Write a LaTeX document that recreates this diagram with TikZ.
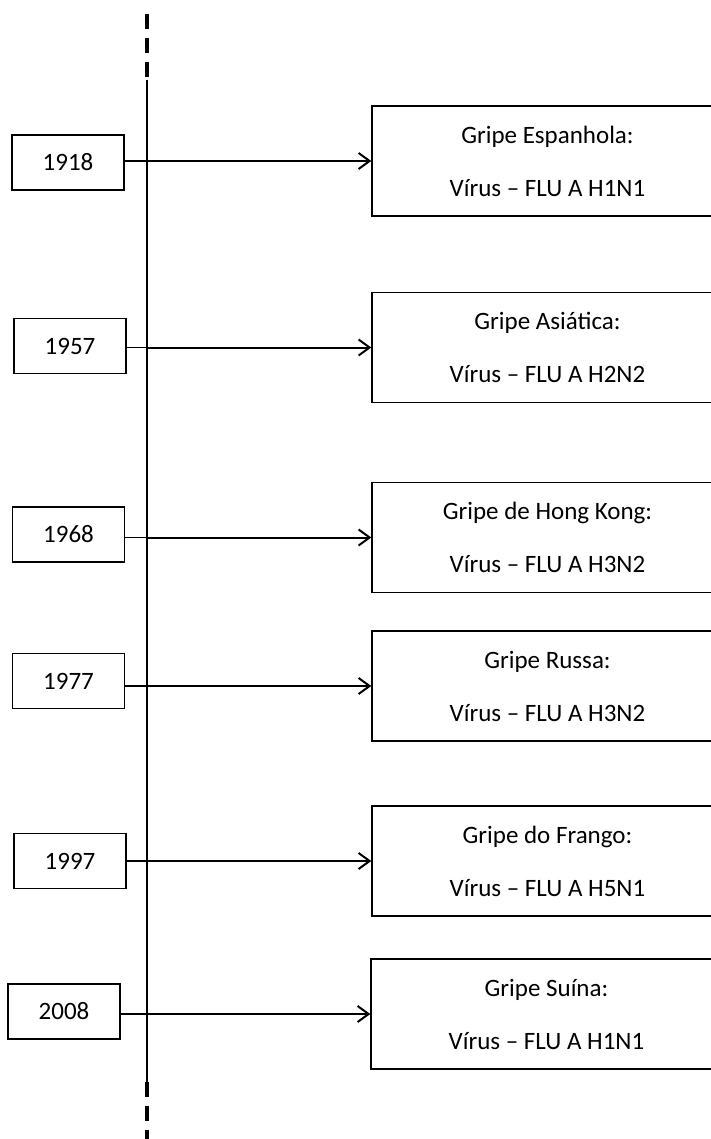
\documentclass[tikz,border=0pt]{standalone}
\usepackage{fontspec}
\setmainfont{Carlito}
\usetikzlibrary{arrows.meta}
\tikzset{
  axis line/.style={line width=0.8pt},
  axis dash/.style={line width=2pt, dash pattern=on 7.5pt off 4.5pt},
  year box/.style={draw, line width=0.7pt, minimum width=56pt, minimum height=27.5pt,
    inner sep=0pt, font=\fontsize{12.5}{15}\selectfont},
  event box/.style={draw, line width=0.7pt, minimum width=175.5pt, minimum height=55pt,
    inner sep=0pt, align=center, font=\fontsize{12.5}{26.5}\selectfont},
  stub/.style={line width=0.6pt},
  link/.style={-{Straight Barb[length=5.5pt,width=8pt]}, line width=1pt},
}

\begin{document}
\begin{tikzpicture}[x=0.5pt, y=-0.5pt]
  \useasboundingbox (0,0) rectangle (711,1139);
  \clip (0,0) rectangle (711,1139);

  % Time axis
  \coordinate (axis top) at (147,14);
  \coordinate (axis) at (147,80);
  \coordinate (axis end) at (147,1082);
  \coordinate (axis bottom) at (147,1150);
  \draw[axis dash] (axis top) -- (axis);
  \draw[axis line] (axis) -- (axis end);
  \draw[axis dash] (axis end) -- (axis bottom);

  % Pandemics: years, boxes and arrows
  \foreach \i/\yr/\yx/\yy/\ex/\ey/\title/\sub in {
    1/1918/68/162.5/547.5/161/Gripe Espanhola:/H1N1,
    2/1957/70/346/547.5/347.5/Gripe Asiática:/H2N2,
    3/1968/68.5/534.5/547.5/537.5/Gripe de Hong Kong:/H3N2,
    4/1977/68.5/681/547.5/686/Gripe Russa:/H3N2,
    5/1997/70/861/547.5/861/Gripe do Frango:/H5N1,
    6/2008/64/1011.5/546.5/1014/Gripe Suína:/H1N1} {
    \node[year box] (y\i) at (\yx,\yy) {\yr};
    \node[event box] (e\i) at (\ex,\ey) {\title\\Vírus – FLU A \sub};
    \draw[stub] (y\i.east |- e\i.west) -- (axis |- e\i.west);
    \draw[link] (axis |- e\i.west) -- (e\i.west);
  }
\end{tikzpicture}
\end{document}
